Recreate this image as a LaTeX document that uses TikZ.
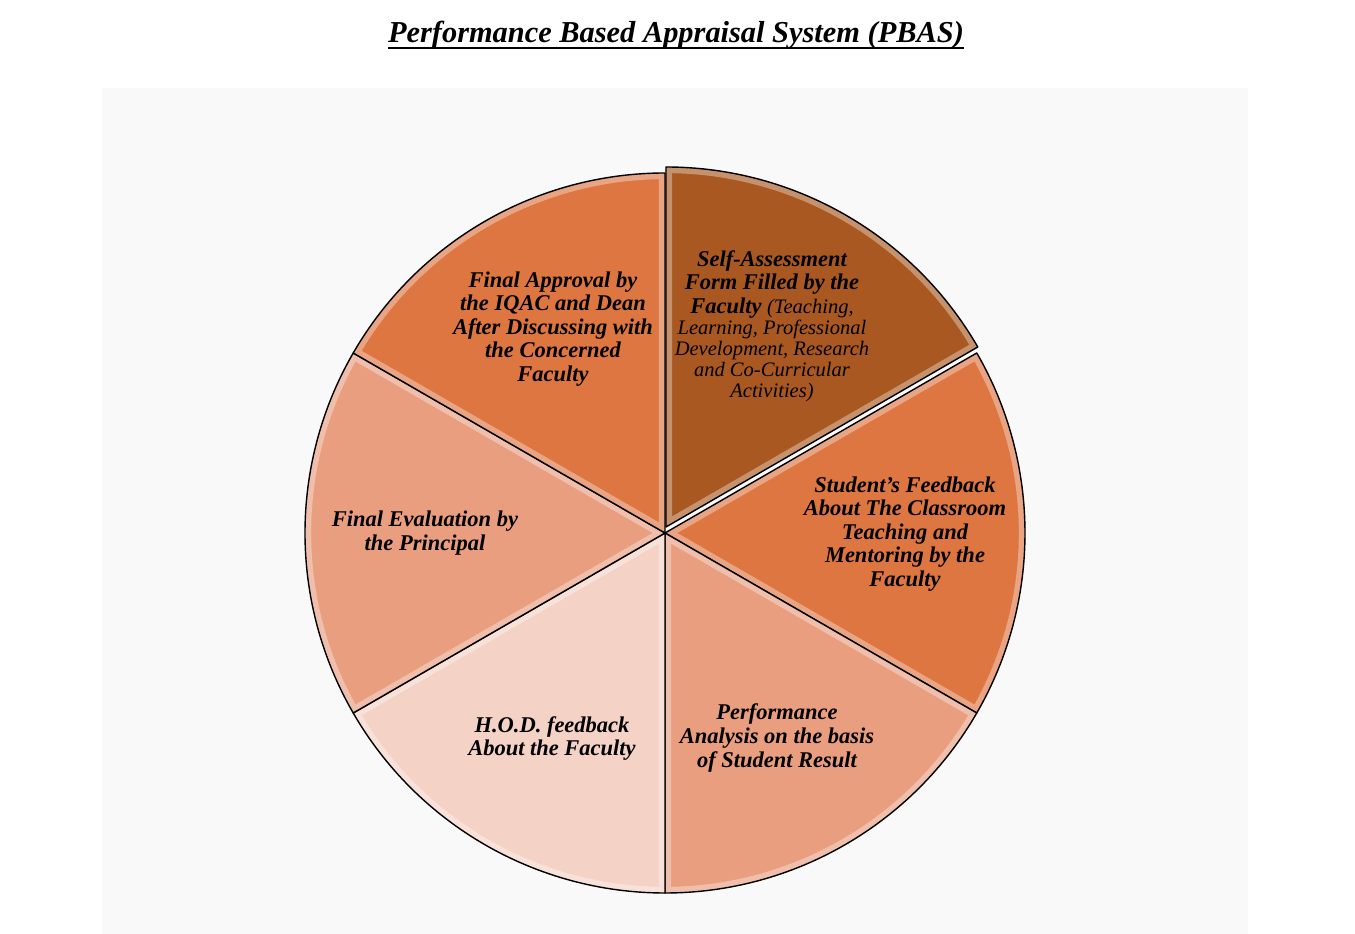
\documentclass[tikz,border=0pt]{standalone}
\usepackage{fontspec}
\setmainfont{Liberation Serif}
\usepackage{tikz}
\usetikzlibrary{positioning}
\definecolor{pbasdark}{RGB}{168,88,32}
\definecolor{pbasorange}{RGB}{222,118,66}
\definecolor{pbassalmon}{RGB}{233,158,128}
\definecolor{pbaspale}{RGB}{245,210,198}
\definecolor{canvas}{RGB}{249,249,249}
\tikzset{
    rim/.style={draw=black, line width=0.8pt, line join=round},
    bevel/.style={draw=white, opacity=0.35, line width=7pt},
    title/.style={font=\bfseries\itshape\fontsize{17.3}{20}\selectfont},
    label/.style={align=center, font=\bfseries\itshape\fontsize{12.8}{13.4}\selectfont}
}
% thick underline for the title
\newcommand{\pbasunderline}[1]{\setbox0\hbox{#1}\rlap{\rule[-3.8pt]{\wd0}{1.1pt}}\box0}
% one slice of the pie: start angle, end angle, colour
\newcommand{\pbasslice}[3]{%
    \fill[#3] (0,0) -- (#1:7.2) arc[start angle=#1, end angle=#2, radius=7.2] -- cycle;
    \begin{scope}
        \clip (0,0) -- (#1:7.2) arc[start angle=#1, end angle=#2, radius=7.2] -- cycle;
        \draw[bevel] (0,0) -- (#1:7.2) arc[start angle=#1, end angle=#2, radius=7.2] -- cycle;
    \end{scope}
    \draw[rim] (0,0) -- (#1:7.2) arc[start angle=#1, end angle=#2, radius=7.2] -- cycle;}
\newcommand{\pbasdetail}{\mdseries\itshape\fontsize{11.7}{12}\selectfont}

\begin{document}
\begin{tikzpicture}
    \useasboundingbox (-13.3,-8.02) rectangle (13.8,10.66);
    % Background
    \fill[canvas] (-11.26,-8.02) rectangle (11.66,8.9);

    % Title
    \node[title] (title) at (0.22,9.96) {\pbasunderline{Performance Based Appraisal System (PBAS)}};

    % Slices
    \pbasslice{-30}{30}{pbasorange}
    \pbasslice{-90}{-30}{pbassalmon}
    \pbasslice{210}{270}{pbaspale}
    \pbasslice{150}{210}{pbassalmon}
    \pbasslice{90}{150}{pbasorange}
    \begin{scope}[shift={(0.02,0.12)}]
        \pbasslice{30}{90}{pbasdark}
    \end{scope}

    % Labels
    \node[label] (self) at (2.14,4.14) {Self-Assessment\\Form Filled by the\\Faculty {\pbasdetail (Teaching,}\\[-1.4pt]{\pbasdetail Learning, Professional}\\[-1.4pt]{\pbasdetail Development, Research}\\[-1.4pt]{\pbasdetail and Co-Curricular}\\[-1.4pt]{\pbasdetail Activities)}};
    \node[label] (student) at (4.8,-0.02) {Student’s Feedback\\About The Classroom\\Teaching and\\Mentoring by the\\Faculty};
    \node[label] (result) at (2.24,-4.1) {Performance\\Analysis on the basis\\of Student Result};
    \node[label] (hod) at (-2.26,-4.11) {H.O.D. feedback\\About the Faculty};
    \node[label] (principal) at (-4.8,0) {Final Evaluation by\\the Principal};
    \node[label] (approval) at (-2.24,4.08) {Final Approval by\\the IQAC and Dean\\After Discussing with\\the Concerned\\Faculty};
\end{tikzpicture}
\end{document}
